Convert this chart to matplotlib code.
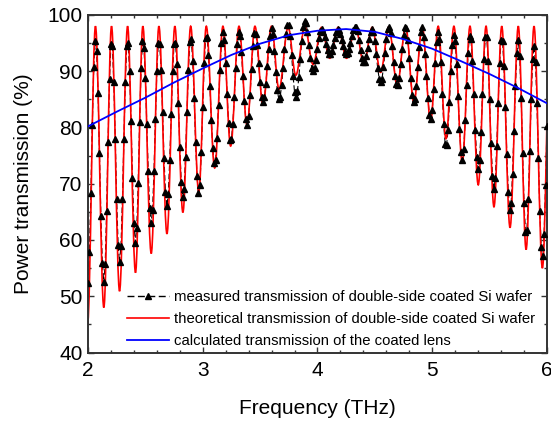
import numpy as np
import matplotlib
matplotlib.use('Agg')
import matplotlib.pyplot as plt
from matplotlib.path import Path
from matplotlib.patches import PathPatch
from matplotlib.lines import Line2D
from matplotlib.ticker import MultipleLocator

plt.rcParams['font.family'] = ['Liberation Sans', 'DejaVu Sans']

# measured transmission on a 0.0125 THz grid (2.0 ... 6.0 THz)
meas_T = [
    52.3, 57.8, 68.3, 80.5, 90.7, 95.4,
    93.6, 86.2, 75.4, 64.2, 55.9, 52.5,
    55.8, 65.2, 77.5, 88.7, 94.9,
    94.4, 88.0, 78.0, 67.2, 59.1,
    56.0, 59.0, 67.2, 78.0, 88.0, 94.4,
    95.0, 90.1, 81.2, 71.0, 63.0, 59.5,
    62.1, 70.2, 81.0, 90.5, 95.3,
    94.2, 88.8, 80.6, 72.2, 65.7, 63.0,
    65.3, 72.2, 81.5, 90.0, 95.0,
    94.8, 90.2, 82.7, 74.6, 68.5, 66.0,
    68.2, 74.3, 82.4, 90.0, 94.8,
    95.1, 91.2, 84.3, 76.5, 70.3, 67.6,
    69.1, 74.8, 82.7, 90.3, 95.2,
    95.7, 91.9, 85.2, 77.5, 71.3, 68.3,
    69.8, 75.6, 83.7, 91.4, 95.9,
    96.1, 92.9, 87.4, 81.3, 76.3, 73.7,
    74.3, 78.2, 84.0, 90.2, 95.0, 97.0,
    95.6, 91.5, 85.9, 80.8, 77.8,
    77.9, 80.7, 85.4, 90.6, 94.8, 96.9,
    96.3, 93.5, 89.1, 84.7, 81.5,
    80.5, 82.1, 85.8, 90.4, 94.5, 96.8,
    96.7, 94.6, 91.4, 88.0, 85.5,
    84.5, 85.4, 87.7, 90.9, 94.0, 96.3,
    97.6, 96.7, 93.6, 89.8, 86.6, 85.1,
    85.5, 87.5, 90.5, 93.9, 96.7, 98.3,
    98.2, 96.2, 92.8, 89.1, 86.3,
    85.5, 86.5, 88.9, 92.1, 95.4, 97.8, 99.0,
    98.6, 97.0, 94.7, 92.3, 90.6,
    90.0, 90.6, 92.0, 94.0, 95.9, 97.2,
    97.5, 97.0, 96.1, 94.9, 93.8, 93.1,
    93.1, 93.6, 94.7, 95.9, 96.9, 97.5,
    97.4, 96.7, 95.6, 94.4, 93.5, 93.0,
    93.2, 93.9, 95.0, 96.2, 97.3, 97.9,
    97.9, 97.1, 95.5, 93.8, 92.3, 91.6,
    91.7, 92.7, 94.1, 95.7, 96.9, 97.5,
    97.0, 95.4, 93.0, 90.5, 88.7, 88.0,
    88.7, 90.7, 93.3, 95.8, 97.5,
    97.9, 96.8, 94.5, 91.7, 89.2, 87.7,
    87.5, 88.8, 91.2, 94.0, 96.4, 97.8,
    97.6, 95.6, 92.4, 88.8, 85.8, 84.5,
    85.1, 87.4, 90.8, 94.3, 96.9, 97.9,
    96.0, 93.1, 89.1, 85.2, 82.3,
    81.5, 83.1, 86.9, 91.4, 95.2, 97.0,
    95.8, 91.7, 86.0, 80.6, 77.1,
    76.8, 79.5, 84.5, 90.1, 94.6, 96.5,
    95.3, 91.3, 85.6, 79.8, 75.6,
    74.2, 76.2, 81.3, 87.6, 93.3, 96.3,
    95.7, 91.8, 85.9, 79.5, 74.7, 72.6,
    74.2, 79.2, 85.9, 92.1, 96.0,
    96.0, 91.9, 85.0, 77.3, 71.4, 69.0,
    71.0, 76.7, 84.4, 91.4, 95.5,
    95.4, 91.0, 83.6, 75.3, 68.6, 65.3,
    66.5, 71.7, 79.4, 87.4, 93.3,
    95.5, 92.7, 85.2, 75.5, 66.6, 61.5,
    61.8, 67.2, 75.9, 85.1, 92.1,
    94.5, 91.7, 84.3, 74.5, 65.1, 58.7,
    57.1, 61.1, 69.7, 80.2,
]
meas_f = np.linspace(2.0, 6.0, len(meas_T))

# theoretical curve: successive minima / maxima (THz, %)
theo_f = [1.996, 2.065, 2.138, 2.205, 2.275, 2.345, 2.414, 2.478, 2.551, 2.618,
          2.688, 2.757, 2.827, 2.895, 2.965, 3.031, 3.104, 3.176, 3.243, 3.316,
          3.386, 3.455, 3.525, 3.599, 3.665, 3.744, 3.811, 3.890, 3.962, 4.035,
          4.107, 4.180, 4.253, 4.332, 4.404, 4.477, 4.550, 4.622, 4.695, 4.768,
          4.840, 4.913, 4.986, 5.052, 5.120, 5.189, 5.262, 5.329, 5.401, 5.469,
          5.538, 5.606, 5.678, 5.750, 5.818, 5.887, 5.960, 6.030]
theo_T = [45.0, 98.0, 48.0, 98.0, 50.9, 98.0, 54.2, 98.0, 57.6, 98.0,
          61.1, 98.0, 64.9, 98.0, 68.5, 98.0, 72.8, 98.0, 76.7, 98.0,
          80.4, 98.0, 84.0, 98.0, 86.8, 97.8, 89.3, 97.8, 91.2, 97.8,
          92.3, 97.8, 92.3, 97.8, 91.3, 97.8, 89.8, 97.9, 87.4, 97.9,
          84.5, 97.9, 81.2, 98.0, 78.0, 98.0, 73.8, 98.0, 69.8, 98.0,
          65.9, 98.0, 62.2, 98.0, 58.3, 98.0, 55.0, 98.0]

# coated lens
lens_f = [2.0, 2.25, 2.5, 2.75, 3.0, 3.25, 3.5, 3.75, 4.0, 4.25, 4.5,
          4.75, 5.0, 5.25, 5.5, 5.75, 6.0]
lens_T = [80.2, 82.8, 85.3, 88.0, 90.5, 92.9, 94.9, 96.4, 97.2, 97.5, 97.0,
          95.7, 94.0, 91.8, 89.5, 87.0, 84.3]

labels = ['measured transmission of double-side coated Si wafer',
          'theoretical transmission of double-side coated Si wafer',
          'calculated transmission of the coated lens']

fig = plt.figure(figsize=(5.51, 4.21), dpi=100)
ax = fig.add_axes([0.1597, 0.1627, 0.8330, 0.8017])

# measured: thin dashed line under everything, triangles on top
ax.plot(meas_f, meas_T, ls=(0, (5, 2.5)), color='k', lw=0.8, zorder=1)

# theoretical: smooth segments between the extrema (horizontal tangents)
k = 0.3642
verts = [(theo_f[0], theo_T[0])]
codes = [Path.MOVETO]
for i in range(len(theo_f) - 1):
    x0, y0, x1, y1 = theo_f[i], theo_T[i], theo_f[i + 1], theo_T[i + 1]
    dx = x1 - x0
    verts += [(x0 + k * dx, y0), (x1 - k * dx, y1), (x1, y1)]
    codes += [Path.CURVE4] * 3
ax.add_patch(PathPatch(Path(verts, codes), facecolor='none', edgecolor='#ff0000',
                       lw=1.2, zorder=2))

ax.plot(meas_f, meas_T, ls='none', marker='^', ms=4.4, color='k', zorder=3)
ax.plot(lens_f, lens_T, color='#0000ff', lw=1.3, zorder=4)

ax.set_xlim(2, 6)
ax.set_ylim(40, 100)
ax.xaxis.set_major_locator(MultipleLocator(1))
ax.xaxis.set_minor_locator(MultipleLocator(0.2))
ax.yaxis.set_major_locator(MultipleLocator(10))
ax.yaxis.set_minor_locator(MultipleLocator(5))
ax.tick_params(which='both', direction='in', top=True, right=True, width=1, color='#333333')
ax.tick_params(which='major', length=4.5, labelsize=15, pad=6)
ax.tick_params(axis='y', which='major', pad=4)
ax.tick_params(which='minor', length=2.5)
for s in ax.spines.values():
    s.set_linewidth(1.4)
    s.set_color('#333333')

ax.set_xlabel('Frequency (THz)', fontsize=15, labelpad=14)
ax.set_ylabel('Power transmission (%)', fontsize=15, labelpad=10)

handles = [Line2D([], [], color='k', ls=(0, (5, 2.5)), lw=1, marker='^', ms=4.4),
           Line2D([], [], color='#ff0000', lw=1.2),
           Line2D([], [], color='#0000ff', lw=1.3)]
ax.legend(handles, labels, loc='upper left', bbox_to_anchor=(0.085, 0.186),
          frameon=False, fontsize=10.7, handlelength=2.8, handletextpad=0.35,
          labelspacing=0.56, borderpad=0, borderaxespad=0)

fig.savefig('out.png', dpi=100)
